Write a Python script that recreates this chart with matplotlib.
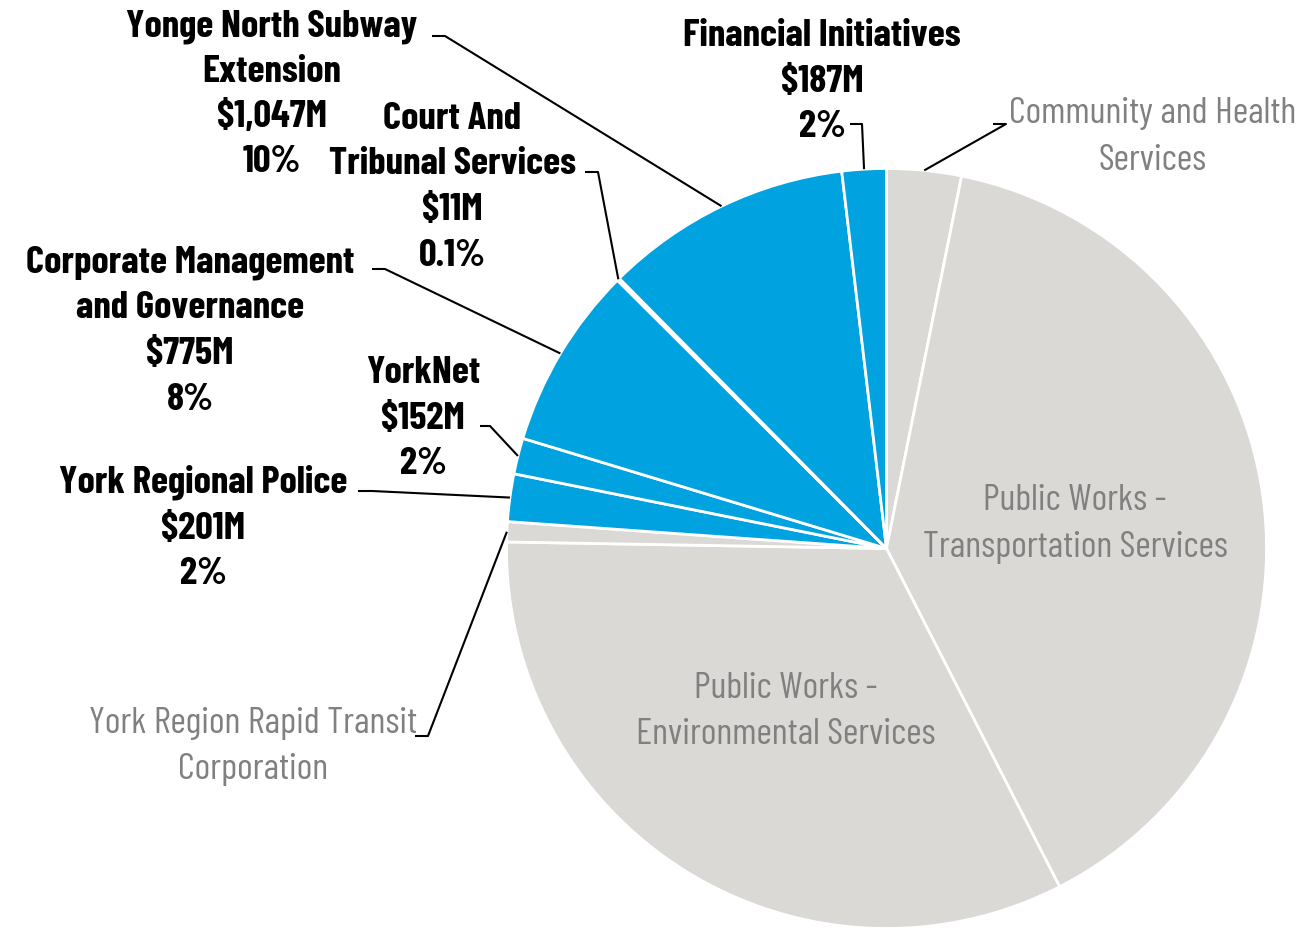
import numpy as np
import matplotlib
matplotlib.use("Agg")
import matplotlib.pyplot as plt

# budget by program area, $M (clockwise from 12 o'clock)
names = ["Community and Health\nServices",
         "Public Works -\nTransportation Services",
         "Public Works -\nEnvironmental Services",
         "York Region Rapid Transit\nCorporation",
         "York Regional Police",
         "YorkNet",
         "Corporate Management\nand Governance",
         "Court And\nTribunal Services",
         "Yonge North Subway\nExtension",
         "Financial Initiatives"]
values = [315, 3907, 3261, 85, 201, 152, 775, 11, 1047, 187]
highlight = [False, False, False, False, True, True, True, True, True, True]
pct_text = ["", "", "", "", "2%", "2%", "8%", "0.1%", "10%", "2%"]

BLUE = "#00A3DF"
GREY = "#DAD9D6"
TXT_GREY = "#808080"
W, H = 1302, 929
FAM = ["Barlow Condensed", "DejaVu Sans"]

fig = plt.figure(figsize=(W / 100, H / 100), dpi=100)
ax = fig.add_axes([0, 0, 1, 1])
cx, cy, R = 886.5, H - 549.5, 380
wedges, _ = ax.pie(values, colors=[BLUE if h else GREY for h in highlight],
                   startangle=90, counterclock=False, radius=R, center=(cx, cy),
                   wedgeprops=dict(edgecolor="white", linewidth=2))
ax.set_xlim(0, W); ax.set_ylim(0, H); ax.set_aspect("equal"); ax.axis("off")

# label layout in pixel coords from top-left:
# (text centre x, first baseline y, elbow start x, elbow end x, elbow y)
layout = [
    (1153, 123, 993, 1006, 125),
    (1075, 510, None, None, None),
    (786, 698, None, None, None),
    (253, 733, 415, 428, 737),
    (203, 493, 358, 372, 492),
    (423, 383, 480, 490, 427),
    (190, 273, 372, 385, 270),
    (452, 129, 585, 598, 173),
    (272, 36, 432, 445, 37),
    (822, 46, 850, 862, 125),
]

for w, name, val, hl, pct, lay in zip(wedges, names, values, highlight, pct_text, layout):
    tx, by, ex0, ex1, ey = lay
    if hl:
        lines = name.split("\n") + [f"${val:,}M", pct]
        style = dict(fontsize=28, fontweight="bold", color="black")
        pitch = 45.5
    else:
        lines = name.split("\n")
        style = dict(fontsize=27, color=TXT_GREY)
        pitch = 46.5
    for i, line in enumerate(lines):
        ax.text(tx, H - (by + i * pitch), line, ha="center", va="baseline",
                family=FAM, **style)
    if ex0 is not None:
        mid = np.deg2rad((w.theta1 + w.theta2) / 2)
        px, py = cx + R * np.cos(mid), cy + R * np.sin(mid)
        ax.plot([ex0, ex1, px], [H - ey, H - ey, py], color="black", lw=1.5,
                solid_capstyle="butt")

fig.savefig("out.png", dpi=100)
